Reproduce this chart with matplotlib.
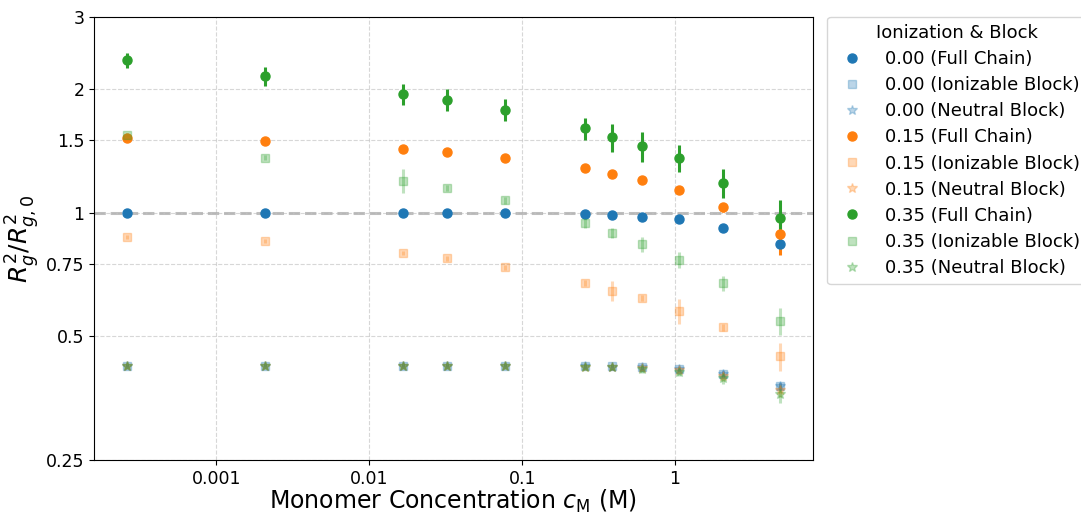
import numpy as np
import matplotlib
matplotlib.use('Agg')
from matplotlib import pyplot as plt
from matplotlib.lines import Line2D
from matplotlib.ticker import FixedLocator, NullLocator, FixedFormatter

# monomer concentration (M)
conc = [2.6e-4, 2.07e-3, 0.0166, 0.0322, 0.0771, 0.258, 0.387, 0.608, 1.06, 2.06, 4.87]

ion_levels = ['0.00', '0.15', '0.35']
colors = ['tab:blue', 'tab:orange', 'tab:green']

# full chain
full_000 = [1.0, 1.0, 1.0, 1.0, 1.0, 0.991, 0.987, 0.977, 0.963, 0.92, 0.84]
full_015 = [1.522, 1.494, 1.429, 1.407, 1.359, 1.282, 1.240, 1.199, 1.133, 1.03, 0.887]
full_035 = [2.349, 2.148, 1.94, 1.884, 1.778, 1.605, 1.526, 1.45, 1.359, 1.183, 0.972]
full_000_err = [0.004, 0.004, 0.004, 0.004, 0.004, 0.005, 0.005, 0.006, 0.006, 0.008, 0.012]
full_015_err = [0.008, 0.008, 0.008, 0.008, 0.008, 0.01, 0.01, 0.01, 0.012, 0.025, 0.1]
full_035_err = [0.10, 0.115, 0.115, 0.115, 0.11, 0.10, 0.117, 0.12, 0.10, 0.095, 0.10]

# ionizable block
ion_000 = [0.424, 0.424, 0.424, 0.424, 0.424, 0.4235, 0.4225, 0.42, 0.417, 0.405, 0.378]
ion_015 = [0.874, 0.852, 0.797, 0.774, 0.736, 0.674, 0.646, 0.62, 0.576, 0.526, 0.447]
ion_035 = [1.543, 1.361, 1.195, 1.15, 1.072, 0.943, 0.894, 0.838, 0.768, 0.673, 0.545]
ion_000_err = [0.004, 0.004, 0.004, 0.004, 0.004, 0.004, 0.004, 0.005, 0.005, 0.006, 0.008]
ion_015_err = [0.01, 0.01, 0.01, 0.01, 0.01, 0.01, 0.035, 0.01, 0.04, 0.01, 0.035]
ion_035_err = [0.02, 0.02, 0.08, 0.02, 0.02, 0.025, 0.025, 0.035, 0.035, 0.03, 0.04]

# neutral block
neu_000 = [0.424, 0.424, 0.424, 0.424, 0.424, 0.423, 0.422, 0.42, 0.417, 0.405, 0.378]
neu_015 = [0.424, 0.424, 0.424, 0.424, 0.424, 0.422, 0.421, 0.418, 0.413, 0.40, 0.37]
neu_035 = [0.424, 0.424, 0.424, 0.424, 0.424, 0.421, 0.42, 0.416, 0.41, 0.395, 0.362]
neu_000_err = [0.004, 0.004, 0.004, 0.004, 0.004, 0.004, 0.004, 0.005, 0.005, 0.006, 0.008]
neu_015_err = [0.005, 0.005, 0.005, 0.005, 0.005, 0.005, 0.006, 0.006, 0.008, 0.01, 0.015]
neu_035_err = [0.006, 0.006, 0.006, 0.006, 0.006, 0.006, 0.007, 0.008, 0.009, 0.012, 0.018]

full = [full_000, full_015, full_035]
full_err = [full_000_err, full_015_err, full_035_err]
ion = [ion_000, ion_015, ion_035]
ion_err = [ion_000_err, ion_015_err, ion_035_err]
neu = [neu_000, neu_015, neu_035]
neu_err = [neu_000_err, neu_015_err, neu_035_err]

yticks = [0.25, 0.5, 0.75, 1, 1.5, 2, 3]
xticks = [0.001, 0.01, 0.1, 1]

fig = plt.figure(figsize=(10.81, 5.14), dpi=100)
ax = fig.add_axes([94 / 1081, 54 / 514, 718.7 / 1081, 443.3 / 514])

ax.axhline(1.0, color='gray', linestyle='--', linewidth=2.2, alpha=0.5, zorder=1)

handles = []
for k in range(3):
    c = colors[k]
    ax.errorbar(conc, full[k], yerr=full_err[k], fmt='o', color=c, ms=6.5,
                elinewidth=2.2, capsize=0, zorder=3)
    ax.errorbar(conc, ion[k], yerr=ion_err[k], fmt='s', color=c, ms=6,
                elinewidth=2.2, capsize=0, alpha=0.3, zorder=3)
    ax.errorbar(conc, neu[k], yerr=neu_err[k], fmt='*', color=c, ms=7,
                elinewidth=2.2, capsize=0, alpha=0.3, zorder=3)
    handles.append(Line2D([], [], marker='o', ls='none', color=c, ms=6.5,
                          label=ion_levels[k] + ' (Full Chain)'))
    handles.append(Line2D([], [], marker='s', ls='none', color=c, ms=6, alpha=0.3,
                          label=ion_levels[k] + ' (Ionizable Block)'))
    handles.append(Line2D([], [], marker='*', ls='none', color=c, ms=7, alpha=0.3,
                          label=ion_levels[k] + ' (Neutral Block)'))

ax.set_xscale('log')
ax.set_yscale('log')
ax.set_xlim(1.58e-4, 7.96)
ax.set_ylim(0.25, 3)

ax.xaxis.set_major_locator(FixedLocator(xticks))
ax.xaxis.set_major_formatter(FixedFormatter(['0.001', '0.01', '0.1', '1']))
ax.xaxis.set_minor_locator(NullLocator())
ax.yaxis.set_major_locator(FixedLocator(yticks))
ax.yaxis.set_major_formatter(FixedFormatter(['0.25', '0.5', '0.75', '1', '1.5', '2', '3']))
ax.yaxis.set_minor_locator(NullLocator())
ax.tick_params(labelsize=12.5)

ax.grid(True, linestyle='--', alpha=0.5)

ax.set_xlabel(r'Monomer Concentration $c_{\mathrm{M}}$ (M)', fontsize=17, labelpad=0)
ax.set_ylabel(r'$R_g^2/R_{g,0}^2$', fontsize=18, labelpad=3)

ax.legend(handles=handles, title='Ionization & Block', loc='upper left',
          bbox_to_anchor=(1.02, 1.0), borderaxespad=0, fontsize=13,
          title_fontsize=13, labelspacing=0.45)

fig.savefig('out.png', dpi=100)
